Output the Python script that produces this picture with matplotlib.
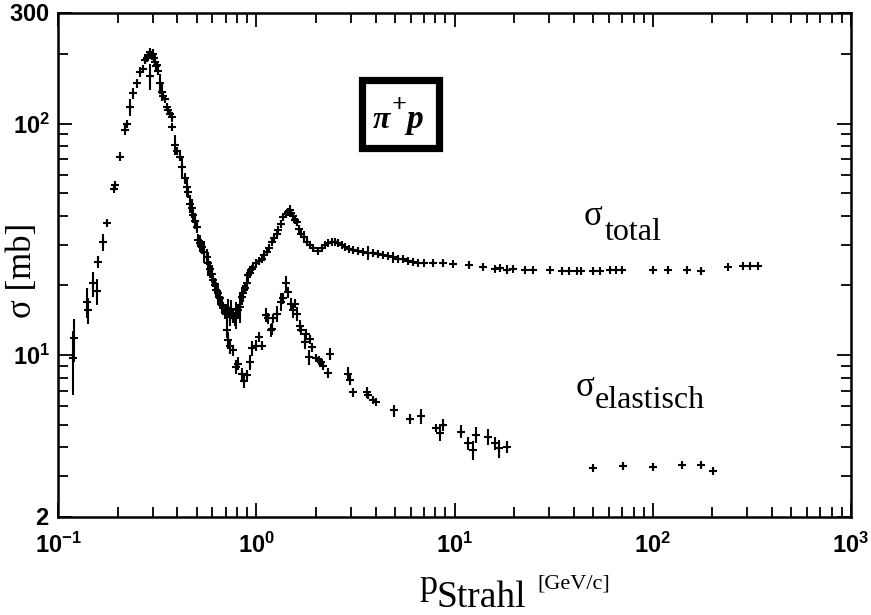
import matplotlib
matplotlib.use("Agg")
import matplotlib.pyplot as plt
from matplotlib.patches import Rectangle

plt.rcParams.update({
    "font.family": ["Liberation Serif", "DejaVu Serif"],
    "mathtext.fontset": "custom",
    "mathtext.rm": "Liberation Serif",
    "mathtext.it": "Liberation Serif:italic",
    "mathtext.bf": "Liberation Serif:bold",
    "mathtext.sf": "Liberation Sans:bold",
})

# pi+ p total cross section: beam momentum [GeV/c], sigma [mb], error [mb]
p_tot = [0.119, 0.120, 0.140, 0.142, 0.151, 0.158, 0.160, 0.168, 0.177, 0.192,
         0.193, 0.206, 0.218, 0.222, 0.231, 0.240, 0.249, 0.259, 0.268, 0.275,
         0.280, 0.285, 0.290, 0.292, 0.297, 0.300, 0.304, 0.308, 0.312, 0.315,
         0.320, 0.327, 0.334, 0.340, 0.346, 0.353, 0.360, 0.368, 0.374, 0.378,
         0.389, 0.400, 0.412, 0.420, 0.437, 0.445, 0.454, 0.463, 0.472, 0.481,
         0.490, 0.500, 0.510, 0.520, 0.530, 0.545, 0.562, 0.573, 0.584, 0.595,
         0.607, 0.618, 0.630, 0.643, 0.656, 0.669, 0.682, 0.695, 0.709, 0.722,
         0.736, 0.750, 0.765, 0.780, 0.795, 0.810, 0.826, 0.844, 0.860, 0.877,
         0.895, 0.912, 0.930, 0.948, 0.965, 1.00, 1.03, 1.065, 1.10, 1.13,
         1.165, 1.20, 1.235, 1.27, 1.29, 1.33, 1.37, 1.41, 1.45, 1.48,
         1.50, 1.53, 1.56, 1.60, 1.64, 1.69, 1.75, 1.80, 1.87, 1.94,
         2.05, 2.14, 2.22, 2.31, 2.40, 2.50, 2.59, 2.70, 2.80, 2.94,
         3.08, 3.27, 3.46, 3.67, 3.89, 4.13, 4.37, 4.64, 4.91, 5.20,
         5.51, 5.85, 6.19, 6.56, 7.00, 7.81, 8.80, 9.85, 11.9, 14.0,
         16.0, 17.0, 18.3, 19.8, 22.6, 24.9, 30.3, 34.7, 38.0, 41.3,
         43.7, 50.1, 54.1, 60.8, 65.0, 69.6, 100.5, 119.6, 148.0, 175.0,
         240.0, 286.0, 309.0, 340.0]
s_tot = [9.7, 11.8, 17.0, 15.6, 20.4, 18.9, 25.3, 30.7, 37.2, 52.4,
         54.5, 72.0, 94.0, 100.0, 118.0, 135.0, 149.0, 167.0, 172.0, 188.0,
         192.0, 197.0, 160.0, 203.0, 195.0, 200.0, 191.0, 185.0, 178.0, 179.0,
         168.0, 149.0, 137.0, 132.0, 128.0, 118.0, 114.0, 110.0, 107.0, 97.0,
         81.0, 76.0, 72.0, 65.0, 58.0, 53.0, 50.7, 45.1, 43.0, 40.2,
         38.0, 35.7, 31.3, 30.5, 29.4, 28.0, 26.6, 25.0, 23.6, 22.5,
         21.1, 20.0, 19.1, 18.5, 17.6, 16.5, 15.9, 15.5, 15.2, 16.0,
         14.6, 15.8, 14.8, 14.4, 15.0, 15.6, 16.2, 17.9, 18.5, 19.4,
         20.5, 22.1, 22.6, 23.6, 24.0, 24.9, 25.5, 26.1, 27.0, 28.0,
         29.0, 30.7, 32.0, 33.5, 34.6, 37.0, 39.5, 40.5, 41.5, 42.5,
         41.0, 40.0, 38.5, 37.6, 35.0, 33.5, 32.5, 30.7, 29.8, 28.9,
         28.2, 29.0, 29.9, 30.4, 30.7, 30.8, 30.5, 30.0, 29.4, 28.8,
         28.4, 28.1, 28.0, 27.7, 27.5, 27.2, 27.0, 26.7, 26.4, 26.1,
         25.9, 25.6, 25.3, 25.1, 25.0, 25.0, 24.9, 24.8, 24.4, 24.0,
         23.6, 23.7, 23.4, 23.6, 23.4, 23.3, 23.2, 23.1, 23.1, 23.1,
         23.1, 23.0, 23.1, 23.2, 23.2, 23.2, 23.3, 23.3, 23.4, 23.1,
         24.0, 24.2, 24.2, 24.3]
e_tot = [3.0, 2.5, 2.5, 2.0, 2.5, 2.5, 1.5, 2.5, 1.0, 2.0,
         2.0, 3.0, 5.0, 4.0, 10.0, 8.0, 6.0, 8.0, 6.0, 6.0,
         5.0, 6.0, 20.0, 8.0, 6.0, 10.0, 6.0, 5.0, 8.0, 5.0,
         6.0, 15.0, 12.0, 5.0, 4.0, 4.0, 4.0, 4.0, 5.0, 3.0,
         8.0, 3.0, 3.0, 6.0, 3.0, 5.0, 3.0, 4.0, 4.0, 3.0,
         3.0, 2.0, 2.0, 2.5, 2.0, 3.0, 2.0, 3.0, 2.0, 2.0,
         1.5, 1.5, 1.5, 2.0, 1.5, 1.5, 1.0, 1.2, 1.5, 1.5,
         1.2, 1.5, 1.0, 1.0, 2.0, 1.0, 2.5, 1.5, 1.5, 1.0,
         1.5, 1.5, 1.0, 1.0, 1.0, 1.0, 1.0, 1.0, 1.5, 1.0,
         1.0, 1.0, 1.5, 1.2, 1.0, 1.5, 1.5, 1.5, 1.5, 2.0,
         1.0, 1.5, 1.5, 1.5, 1.5, 1.0, 2.0, 1.0, 1.0, 1.0,
         1.0, 1.0, 1.0, 0.8, 0.8, 0.8, 0.8, 0.8, 0.8, 0.8,
         0.8, 0.8, 0.8, 2.0, 0.8, 0.8, 0.8, 0.6, 1.5, 0.6,
         0.6, 0.6, 1.0, 0.5, 0.5, 0.5, 0.5, 0.5, 0.5, 0.5,
         0.5, 0.4, 1.0, 0.4, 0.4, 0.4, 0.3, 0.3, 0.3, 0.3,
         0.3, 0.8, 0.3, 0.3, 0.3, 0.3, 0.6, 0.3, 0.4, 1.0,
         0.3, 0.3, 0.3, 0.3]

# pi+ p elastic cross section
p_el = [0.709, 0.720, 0.736, 0.760, 0.790, 0.810, 0.844, 0.870, 0.895, 0.929,
        0.948, 1.00, 1.035, 1.065, 1.12, 1.15, 1.18, 1.20, 1.21, 1.27,
        1.34, 1.37, 1.42, 1.44, 1.49, 1.54, 1.57, 1.60, 1.67, 1.69,
        1.76, 1.78, 1.85, 1.87, 1.90, 2.00, 2.07, 2.12, 2.18, 2.31,
        2.35, 2.91, 2.98, 3.06, 3.63, 3.67, 3.89, 4.00, 4.97, 5.96,
        6.77, 8.06, 8.44, 8.80, 10.8, 11.7, 12.4, 12.8, 14.8, 16.0,
        16.7, 18.5, 50.1, 70.4, 100.5, 140.6, 176.0, 201.0]
s_el = [12.8, 11.6, 10.9, 10.5, 8.9, 9.2, 8.3, 7.7, 8.2, 9.35,
        10.7, 11.0, 12.0, 11.0, 14.9, 14.4, 12.8, 13.0, 14.4, 15.1,
        17.0, 17.6, 20.5, 18.7, 16.7, 15.6, 16.7, 15.1, 13.4, 12.8,
        11.4, 12.3, 9.8, 11.7, 10.8, 9.7, 9.5, 9.35, 9.0, 8.4,
        10.1, 8.3, 7.8, 6.9, 6.9, 6.7, 6.4, 6.3, 5.77, 5.3,
        5.45, 4.86, 4.6, 4.99, 4.67, 4.16, 3.89, 4.53, 4.43, 4.16,
        3.96, 4.02, 3.27, 3.32, 3.30, 3.37, 3.35, 3.16]
e_el = [1.0, 1.0, 0.8, 0.6, 0.6, 0.6, 0.5, 0.5, 0.4, 0.7,
        0.8, 0.6, 0.6, 0.5, 1.0, 0.8, 0.8, 0.8, 0.6, 1.2,
        1.5, 1.0, 1.5, 1.0, 1.0, 1.2, 0.8, 1.0, 0.8, 0.6,
        0.8, 0.6, 0.7, 0.5, 0.5, 0.4, 0.4, 0.4, 0.4, 0.4,
        0.6, 0.6, 0.4, 0.3, 0.4, 0.2, 0.1, 0.1, 0.35, 0.25,
        0.4, 0.1, 0.35, 0.3, 0.3, 0.25, 0.35, 0.35, 0.35, 0.25,
        0.35, 0.25, 0.1, 0.12, 0.12, 0.1, 0.1, 0.1]

x_major = [0.1, 1, 10, 100, 1000]
x_labels = [r"$\mathsf{10^{-1}}$", r"$\mathsf{10^{0}}$", r"$\mathsf{10^{1}}$",
            r"$\mathsf{10^{2}}$", r"$\mathsf{10^{3}}$"]
y_major = [2, 10, 100, 300]
y_labels = [r"$\mathsf{2}$", r"$\mathsf{10^{1}}$", r"$\mathsf{10^{2}}$", r"$\mathsf{300}$"]
y_minor = [3, 4, 5, 6, 7, 8, 9, 20, 30, 40, 50, 60, 70, 80, 90, 200]

W, H = 871, 615
fig = plt.figure(figsize=(W / 100, H / 100), dpi=100)
ax = fig.add_axes([58 / W, 1 - 517 / H, (851 - 58) / W, (517 - 13) / H])

pts = dict(fmt="+", color="k", ms=6, mew=1.5, elinewidth=1.5, capsize=0)
ax.errorbar(p_tot, s_tot, yerr=e_tot, **pts)
ax.errorbar(p_el, s_el, yerr=e_el, **pts)

ax.set_xscale("log")
ax.set_yscale("log")
ax.set_xlim(0.1, 1000)
ax.set_ylim(2, 300)
ax.set_xticks(x_major, x_labels)
ax.set_yticks(y_major, y_labels)
ax.set_yticks(y_minor, minor=True)
ax.yaxis.set_minor_formatter(matplotlib.ticker.NullFormatter())
ax.xaxis.set_minor_locator(matplotlib.ticker.LogLocator(base=10, subs=range(2, 10)))
ax.xaxis.set_minor_formatter(matplotlib.ticker.NullFormatter())
ax.tick_params(which="both", direction="in", top=True, right=True, labelsize=17)
ax.tick_params(which="major", length=10, width=1.3)
ax.tick_params(which="minor", length=7, width=1.3)
ax.tick_params(axis="x", pad=11)
ax.tick_params(axis="y", pad=6)
for sp in ax.spines.values():
    sp.set_linewidth(1.8)


def ftext(x, y, s, **kw):
    # place text at figure pixel position (origin top-left)
    fig.text(x / W, 1 - y / H, s, **kw)


# curve labels
ftext(584, 225, "σ", fontsize=25, va="baseline")
ftext(605, 240, "total", fontsize=23, va="baseline")
ftext(576, 396, "σ", fontsize=25, va="baseline")
ftext(595, 408, "elastisch", fontsize=23, va="baseline")

# reaction box
fig.patches.append(Rectangle((361.5 / W, 1 - 147.5 / H), 77 / W, 67 / H,
                             transform=fig.transFigure, fill=False,
                             lw=5.2, ec="k"))
ftext(373, 128, "π", fontsize=23, fontweight="bold", style="italic", va="baseline")
ftext(392, 112, "+", fontsize=19, fontweight="bold", va="baseline")
ftext(406, 128, "p", fontsize=24, fontweight="bold", style="italic", va="baseline")

# axis titles
ftext(22, 270, "σ [mb]", fontsize=25, rotation=90, ha="center", va="center")
ftext(419, 594, "p", fontsize=26, va="baseline")
ftext(436, 607, "Strahl", fontsize=27, va="baseline")
ftext(537, 589, "[GeV/c]", fontsize=16, va="baseline")

fig.savefig("out.png", dpi=100)
